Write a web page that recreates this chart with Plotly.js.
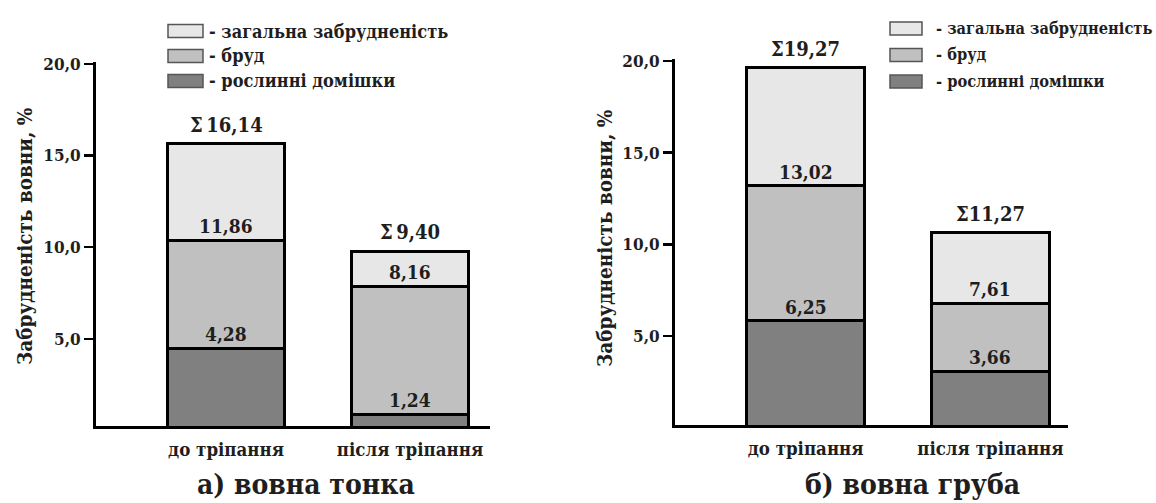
<!DOCTYPE html>
<html>
<head>
<meta charset="utf-8">
<script src="https://cdn.plot.ly/plotly-3.0.1.min.js"></script>
<style>
html,body{margin:0;padding:0;background:#fff;}
#chart{width:1156px;height:503px;}
</style>
</head>
<body>
<div id="chart"></div>
<script>
// ---- data ----
const categories = ['до тріпання', 'після тріпання'];
const seriesNames = ['рослинні домішки', 'бруд', 'загальна забрудненість']; // bottom -> top
const seriesColors = ['#808080', '#c0c0c0', '#e7e7e7'];

// а) вовна тонка — segment heights, %
const finePlant = [4.50, 0.90];
const fineDirt  = [5.89, 6.98];
const fineTotal = [5.24, 1.91];
// б) вовна груба — segment heights, %
const coarsePlant = [5.82, 3.09];
const coarseDirt  = [7.36, 3.71];
const coarseTotal = [6.44, 3.82];

// printed labels (bottom boundary, middle boundary, sum on top)
const fineLabelsPlant = ['4,28', '1,24'];
const fineLabelsDirt  = ['11,86', '8,16'];
const fineLabelsSum   = ['Σ\u200916,14', 'Σ\u20099,40'];
const coarseLabelsPlant = ['6,25', '3,66'];
const coarseLabelsDirt  = ['13,02', '7,61'];
const coarseLabelsSum   = ['Σ19,27', 'Σ11,27'];

const yTickVals = [5, 10, 15, 20];
const yTickText = ['5,0', '10,0', '15,0', '20,0'];
const yTitle = 'Забрудненість вовни, %';
const panelTitles = ['а) вовна тонка', 'б) вовна груба'];

// ---- build ----
const W = 1156, H = 503;
const px = v => v / W;
const py = v => 1 - v / H;
const FONT = 'DejaVu Serif Condensed, DejaVu Serif';
const TXT = '#1e1e1e';

function barTraces(segs, xa, ya) {
  return segs.map((s, i) => ({
    type: 'bar', x: categories, y: s, name: seriesNames[i],
    xaxis: xa, yaxis: ya, width: 0.64, showlegend: false,
    marker: {color: seriesColors[i], line: {color: '#000', width: 3}},
    hoverinfo: 'skip'
  }));
}

const data = [
  ...barTraces([finePlant, fineDirt, fineTotal], 'x', 'y'),
  ...barTraces([coarsePlant, coarseDirt, coarseTotal], 'x2', 'y2')
];

const annotations = [];
function valueLabels(segs, labelSets, xref, yref) {
  let cum = [0, 0];
  segs.forEach((s, i) => {
    cum = cum.map((c, k) => c + s[k]);
    categories.forEach((c, k) => {
      const isSum = i === segs.length - 1;
      annotations.push({
        xref: xref, yref: yref, x: c, y: cum[k], text: '<b>' + labelSets[i][k] + '</b>',
        showarrow: false, yanchor: 'bottom', xanchor: 'center',
        yshift: isSum ? 5 : 1,
        font: {family: FONT, size: isSum ? 20 : 19, color: TXT}
      });
    });
  });
}
valueLabels([finePlant, fineDirt, fineTotal], [fineLabelsPlant, fineLabelsDirt, fineLabelsSum], 'x', 'y');
valueLabels([coarsePlant, coarseDirt, coarseTotal], [coarseLabelsPlant, coarseLabelsDirt, coarseLabelsSum], 'x2', 'y2');

// y-axis titles
[[25, 236], [605, 238]].forEach(p => annotations.push({
  xref: 'paper', yref: 'paper', x: px(p[0]), y: py(p[1]), text: '<b>' + yTitle + '</b>',
  textangle: -90, showarrow: false, xanchor: 'center', yanchor: 'middle',
  font: {family: FONT, size: 20.5, color: TXT}
}));
// panel titles
[[306, 484], [912, 484]].forEach((p, i) => annotations.push({
  xref: 'paper', yref: 'paper', x: px(p[0]), y: py(p[1]), text: '<b>' + panelTitles[i] + '</b>',
  showarrow: false, xanchor: 'center', yanchor: 'middle',
  font: {family: FONT, size: 28, color: TXT}
}));

// manual legends
const shapes = [];
const legends = [
  {bx0: 168, bx1: 203, tx: 207, rows: [31, 56, 81], fs: 18},
  {bx0: 890, bx1: 922, tx: 934, rows: [28.5, 55, 81.5], fs: 16.3}
];
const legendOrder = [2, 1, 0];
legends.forEach(L => {
  legendOrder.forEach((si, r) => {
    const cy = L.rows[r];
    shapes.push({type: 'rect', xref: 'paper', yref: 'paper',
      x0: px(L.bx0), x1: px(L.bx1), y0: py(cy + 6.5), y1: py(cy - 6.5),
      fillcolor: seriesColors[si], line: {color: '#555', width: 1.5}});
    annotations.push({xref: 'paper', yref: 'paper', x: px(L.tx), y: py(cy),
      text: '<b>- ' + seriesNames[si] + '</b>', showarrow: false, xanchor: 'left', yanchor: 'middle',
      font: {family: FONT, size: L.fs, color: TXT}});
  });
});

const xCommon = {
  type: 'category', showline: true, linewidth: 3, linecolor: '#000',
  ticks: 'outside', ticklen: 5, tickcolor: 'rgba(0,0,0,0)', showgrid: false, zeroline: false,
  tickvals: categories, ticktext: categories.map(c => '<b>' + c + '</b>'),
  tickfont: {family: FONT, size: 18.5, color: TXT}, fixedrange: true
};
const yCommon = {
  showline: true, linewidth: 3, linecolor: '#000', ticks: 'outside', ticklen: 9,
  tickwidth: 2.5, tickcolor: '#000', showgrid: false, zeroline: false,
  tickvals: yTickVals, ticktext: yTickText.map(t => '<b>' + t + '</b>'),
  tickfont: {family: FONT, size: 17, color: TXT}, fixedrange: true
};

const layout = {
  width: W, height: H, margin: {l: 0, r: 0, t: 0, b: 0},
  font: {family: FONT},
  paper_bgcolor: '#fff', plot_bgcolor: 'rgba(0,0,0,0)',
  barmode: 'stack', showlegend: false,
  xaxis: Object.assign({}, xCommon, {domain: [px(96), px(490)], range: [-0.707, 1.435], anchor: 'y'}),
  yaxis: Object.assign({}, yCommon, {domain: [py(426), py(62)], range: [0.25, 20.1], anchor: 'x'}),
  xaxis2: Object.assign({}, xCommon, {domain: [px(675), px(1068)], range: [-0.707, 1.42], anchor: 'y2'}),
  yaxis2: Object.assign({}, yCommon, {domain: [py(425), py(59)], range: [0.15, 20.1], anchor: 'x2'}),
  annotations: annotations, shapes: shapes
};

Plotly.newPlot('chart', data, layout, {staticPlot: true, displayModeBar: false});
</script>
</body>
</html>
